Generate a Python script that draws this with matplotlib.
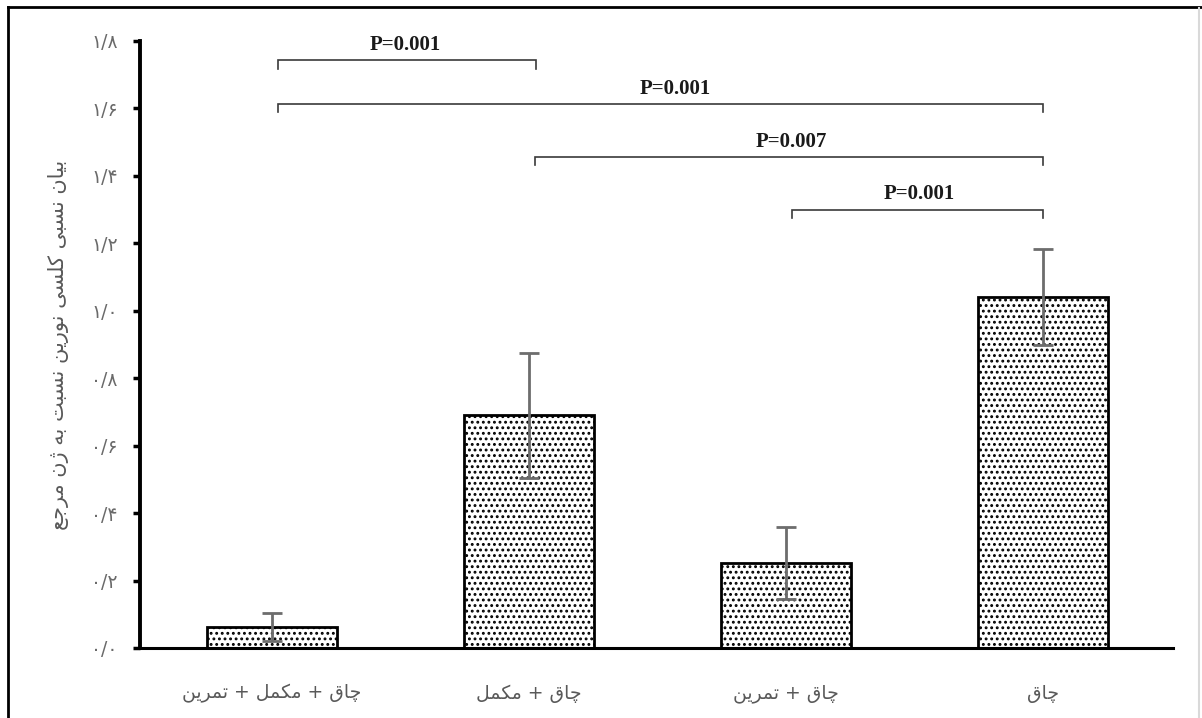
import matplotlib
matplotlib.use("Agg")
import matplotlib.pyplot as plt
from matplotlib.lines import Line2D

# ---- minimal Persian shaping (matplotlib has no bidi / joining support) -----------------
# (isolated, final, initial, medial); right-joining letters only have two forms
FORMS = {
    "ا": ("\uFE8D", "\uFE8E"),
    "ب": ("\uFE8F", "\uFE90", "\uFE91", "\uFE92"),
    "ت": ("\uFE95", "\uFE96", "\uFE97", "\uFE98"),
    "ج": ("\uFE9D", "\uFE9E", "\uFE9F", "\uFEA0"),
    "چ": ("\uFB7A", "\uFB7B", "\uFB7C", "\uFB7D"),
    "ر": ("\uFEAD", "\uFEAE"),
    "ژ": ("\uFB8A", "\uFB8B"),
    "س": ("\uFEB1", "\uFEB2", "\uFEB3", "\uFEB4"),
    "ع": ("\uFEC9", "\uFECA", "\uFECB", "\uFECC"),
    "ق": ("\uFED5", "\uFED6", "\uFED7", "\uFED8"),
    "ک": ("\uFB8E", "\uFB8F", "\uFB90", "\uFB91"),
    "ل": ("\uFEDD", "\uFEDE", "\uFEDF", "\uFEE0"),
    "م": ("\uFEE1", "\uFEE2", "\uFEE3", "\uFEE4"),
    "ن": ("\uFEE5", "\uFEE6", "\uFEE7", "\uFEE8"),
    "ه": ("\uFEE9", "\uFEEA", "\uFEEB", "\uFEEC"),
    "و": ("\uFEED", "\uFEEE"),
    "ی": ("\uFBFC", "\uFBFD", "\uFBFE", "\uFBFF"),
}


def fa(text):
    out = []
    for k, ch in enumerate(text):
        if ch not in FORMS:
            out.append(ch)
            continue
        prev = text[k - 1] if k > 0 else ""
        nxt = text[k + 1] if k + 1 < len(text) else ""
        join_prev = prev in FORMS and len(FORMS[prev]) == 4
        join_next = len(FORMS[ch]) == 4 and nxt in FORMS
        f = FORMS[ch]
        if join_prev and join_next:
            out.append(f[3])
        elif join_prev:
            out.append(f[1])
        elif join_next:
            out.append(f[2])
        else:
            out.append(f[0])
    return "".join(out)[::-1]


# ---- data ---------------------------------------------------------------------------------
groups = ["چاق + مکمل + تمرین", "چاق + مکمل", "چاق + تمرین", "چاق"]
means = [0.062, 0.690, 0.252, 1.040]
errors = [0.042, 0.185, 0.108, 0.142]
ylabel = "بیان نسبی کلسی نورین نسبت به ژن مرجع"
yticks = [0.0, 0.2, 0.4, 0.6, 0.8, 1.0, 1.2, 1.4, 1.6, 1.8]
ytick_labels = ["۰/۰", "۰/۲", "۰/۴", "۰/۶", "۰/۸", "۱/۰", "۱/۲", "۱/۴", "۱/۶", "۱/۸"]
# pairwise comparisons: (group a, group b, bracket height, label)
comparisons = [
    (0, 1, 1.742, "P=0.001"),
    (0, 3, 1.614, "P=0.001"),
    (1, 3, 1.457, "P=0.007"),
    (2, 3, 1.300, "P=0.001"),
]

GRAY = "#595959"
plt.rcParams["font.family"] = ["DejaVu Sans"]
plt.rcParams["hatch.linewidth"] = 1.3

fig = plt.figure(figsize=(12.02, 7.18), dpi=100)
ax = fig.add_axes([0.1165, 0.0975, 0.8595, 0.8455])

x = list(range(len(groups)))
ax.bar(x, means, width=0.506, color="white", edgecolor="black", linewidth=2,
       hatch="...", zorder=2)
ax.errorbar(x, means, yerr=errors, fmt="none", ecolor="#6d6d6d", elinewidth=2,
            capsize=7, capthick=2, zorder=3)

# significance brackets
tick_h = 0.024
for a, b, y, lab in comparisons:
    xa, xb = a + 0.025, b + (0.027 if b == 1 else 0.0)
    ax.plot([xa, xa, xb, xb], [y - tick_h, y, y, y - tick_h], color="#3a3a3a",
            lw=1.2, solid_joinstyle="miter", zorder=4)
    xm = (a + b) / 2 + (0.07 if (a, b) == (0, 3) else 0.02)
    ax.text(xm, y + 0.015, lab, ha="center", va="bottom", fontsize=15,
            fontweight="bold", family="Liberation Serif", color="#1a1a1a")

ax.set_xlim(-0.513, 3.506)
ax.set_ylim(0, 1.8)
ax.set_xticks(x)
ax.set_xticklabels([fa(g) for g in groups], fontsize=13.5, color=GRAY)
ax.tick_params(axis="x", length=0, pad=26)
ax.set_yticks(yticks)
ax.set_yticklabels(ytick_labels, fontsize=13.5, color="#6a6a6a")
ax.tick_params(axis="y", direction="out", length=5, width=2.5, pad=11)
ax.set_ylabel(fa(ylabel), fontsize=15, color=GRAY, labelpad=16)

for s in ("top", "right"):
    ax.spines[s].set_visible(False)
ax.spines["left"].set_linewidth(2.8)
ax.spines["bottom"].set_linewidth(2.2)

# page frame around the figure
W, H = 1202, 718
fig.add_artist(Line2D([8 / W, 8 / W], [0, 1 - 7 / H], color="black", lw=2,
                      transform=fig.transFigure))
fig.add_artist(Line2D([8 / W, 1], [1 - 7 / H, 1 - 7 / H], color="black", lw=2,
                      transform=fig.transFigure))
fig.add_artist(Line2D([1199 / W, 1199 / W], [0, 1 - 8 / H], color="#d9d9d9", lw=1.5,
                      transform=fig.transFigure))

fig.savefig("out.png", dpi=100)
